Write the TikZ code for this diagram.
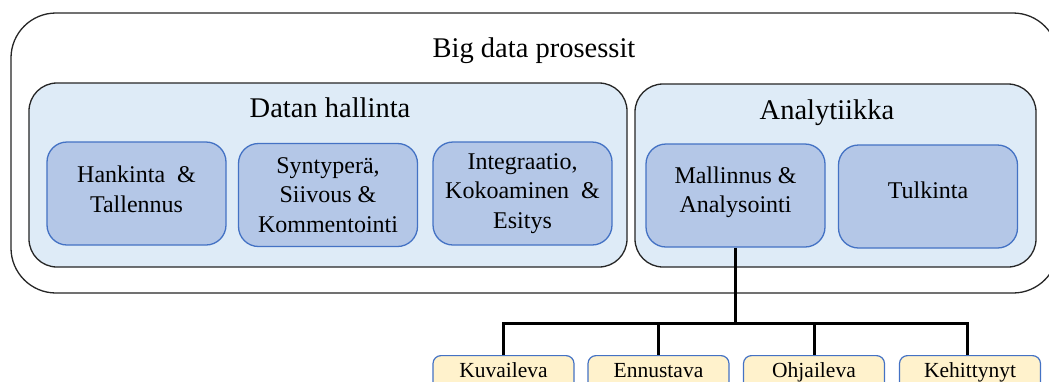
\documentclass[tikz,border=0pt]{standalone}
\usepackage{fontspec}
\setmainfont{Liberation Serif}
\definecolor{framefill}{HTML}{DEEBF7}
\definecolor{boxfill}{HTML}{B4C7E7}
\definecolor{boxline}{HTML}{4472C4}
\definecolor{leaffill}{HTML}{FFF2CC}
\tikzset{
  outerframe/.style={draw=black!85, line width=1.3bp, fill=white, rounded corners=45bp, inner sep=0},
  groupframe/.style={draw=black!85, line width=1.3bp, fill=framefill, rounded corners=28bp, inner sep=0},
  heading/.style={font=\fontsize{28.5bp}{34bp}\selectfont, anchor=base, inner sep=0},
  proc/.style={draw=boxline, line width=1.3bp, fill=boxfill, rounded corners=20bp,
    align=center, inner sep=0, minimum width=179bp, minimum height=103bp,
    font=\fontsize{24bp}{29.5bp}\selectfont},
  leaf/.style={draw=boxline, line width=1.2bp, fill=leaffill, rounded corners=8bp,
    inner sep=0, minimum width=141bp, minimum height=34bp, anchor=north,
    text height=14bp, text depth=4bp, font=\fontsize{21.5bp}{25bp}\selectfont},
  link/.style={draw=black, line width=3bp}
}
\begin{document}
\begin{tikzpicture}[x=1bp, y=-1bp]
\useasboundingbox (0,0) rectangle (1049,381);

% outer frame
\node[outerframe, minimum width=1047bp, minimum height=280bp] (bigdata) at (534.5,153) {};
\node[heading] (bigtitle) at (534,57) {Big data prosessit};

% data management group
\node[groupframe, minimum width=598bp, minimum height=184bp] (hallinta) at (328,175) {};
\node[heading] (halltitle) at (330,117) {Datan hallinta};
\node[proc] (hankinta) at (136.5,193.5) {Hankinta \ \&\\Tallennus\\[-21bp]\mbox{}};
\node[proc] (synty) at (328,195) {Syntyperä,\\Siivous \&\\Kommentointi};
\node[proc] (integ) at (522.5,193.5) {Integraatio,\\Kokoaminen \ \&\\Esitys};

% analytics group
\node[groupframe, minimum width=401bp, minimum height=183bp] (analytiikka) at (835.5,175.5) {};
\node[heading] (analtitle) at (827,119) {Analytiikka};
\node[proc] (mallinnus) at (735.5,195.5) {Mallinnus \&\\Analysointi\\[-18bp]\mbox{}};
\node[proc, text height=16.4bp, text depth=12.4bp] (tulkinta) at (928,196.5) {Tulkinta};

% analysis types
\node[leaf] (kuvaileva) at (503.5,355) {Kuvaileva};
\node[leaf] (ennustava) at (658.5,355) {Ennustava};
\node[leaf] (ohjaileva) at (814,355) {Ohjaileva};
\node[leaf] (kehittynyt) at (970,355) {Kehittynyt};

% tree connectors
\coordinate (hub) at (735.5,323);
\draw[link] (mallinnus.south) -- (hub);
\draw[link] (hub) -| (kuvaileva.north);
\draw[link] (hub) -| (ennustava.north);
\draw[link] (hub) -| (ohjaileva.north);
\draw[link] (hub) -| ([xshift=-3bp]kehittynyt.north);
\end{tikzpicture}
\end{document}
